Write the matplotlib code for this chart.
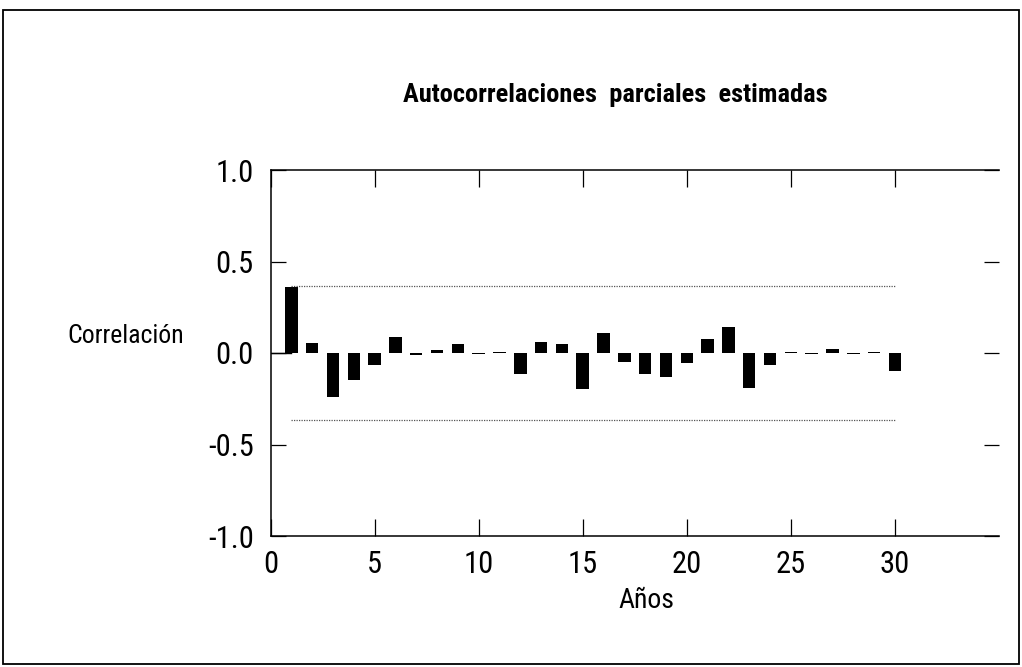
import matplotlib
matplotlib.use("Agg")
import matplotlib.pyplot as plt
from matplotlib.patches import Rectangle
from matplotlib import font_manager
import matplotlib.patheffects as pe

# ---- data ----
lags = list(range(1, 31))
pacf = [0.36, 0.055, -0.24, -0.15, -0.065, 0.088, -0.01, 0.015, 0.05, -0.005,
        0.005, -0.115, 0.06, 0.047, -0.195, 0.108, -0.048, -0.113, -0.13, -0.053,
        0.076, 0.142, -0.19, -0.065, 0.003, -0.005, 0.02, -0.004, 0.008, -0.10]
conf_limit = 0.365
x_ticks = [0, 5, 10, 15, 20, 25, 30]
x_tick_labels = ["0", "5", "10", "15", "20", "25", "30"]
y_ticks = [-1.0, -0.5, 0.0, 0.5, 1.0]
y_tick_labels = ["-1.0", "-0.5", "0.0", "0.5", "1.0"]
title = "Autocorrelaciones  parciales  estimadas"
ylabel = "Correlación"
xlabel = "Años"


def _w(v):
    if isinstance(v, (int, float)):
        return v
    return font_manager.weight_dict.get(str(v), 400)


weights = {}
for f in font_manager.fontManager.ttflist:
    weights.setdefault(f.name, set()).add(_w(f.weight))

preferred = ["Liberation Sans Narrow", "Roboto Condensed", "Archivo Narrow",
             "IBM Plex Sans Condensed"]
narrow = next((n for n in preferred if n in weights), None)

if narrow:
    FAM = [narrow, "Liberation Sans", "DejaVu Sans"]
    s_tick, s_title, s_lab, s_xlab = 22, 19, 18.5, 20
    has_bold = max(weights[narrow]) >= 600
else:
    FAM = ["Liberation Sans", "DejaVu Sans"]
    s_tick, s_title, s_lab, s_xlab = 21, 16, 16, 17
    has_bold = True

W, H = 1022, 667
fig = plt.figure(figsize=(W / 100, H / 100), dpi=100)
ax = fig.add_axes([270.5 / W, 1 - 536 / H, (999 - 270.5) / W, (536 - 170) / H])

ax.bar(lags, pacf, width=0.6, color="black", bottom=0)
ax.plot([0, lags[0]], [0, 0], color="black", lw=1.0)
ax.plot([lags[0], lags[-1]], [conf_limit, conf_limit], color="#555555", lw=0.9,
        linestyle=(0, (1, 1)))
ax.plot([lags[0], lags[-1]], [-conf_limit, -conf_limit], color="#555555", lw=0.9,
        linestyle=(0, (1, 1)))

ax.set_xlim(0, 35)
ax.set_ylim(-1, 1)
ax.spines["right"].set_visible(False)
for s in ["left", "top", "bottom"]:
    ax.spines[s].set_linewidth(1.1)

ax.set_xticks(x_ticks)
ax.set_xticklabels(x_tick_labels, fontfamily=FAM, fontsize=s_tick)
ax.set_yticks(y_ticks)
ax.set_yticklabels(y_tick_labels, fontfamily=FAM, fontsize=s_tick)
ax.tick_params(axis="x", direction="in", length=12, width=0.9, top=True, bottom=True,
               pad=10)
ax.tick_params(axis="y", direction="in", length=11, width=0.9, left=True, right=True,
               labelright=False, pad=12)

t = fig.text(615 / W, 1 - 102 / H, title, ha="center", va="baseline",
             fontfamily=FAM, fontweight="bold", fontsize=s_title)
if not has_bold:
    t.set_path_effects([pe.withStroke(linewidth=1.4, foreground="black")])
fig.text(67 / W, 1 - 343 / H, ylabel, ha="left", va="baseline",
         fontfamily=FAM, fontsize=s_lab)
fig.text(646 / W, 1 - 608 / H, xlabel, ha="center", va="baseline",
         fontfamily=FAM, fontsize=s_xlab)

fig.patches.append(Rectangle((3 / W, 1 - 664 / H), (1019 - 3) / W, (664 - 10) / H,
                             transform=fig.transFigure, fill=False,
                             edgecolor="black", lw=1.3))

fig.savefig("out.png", dpi=100)
